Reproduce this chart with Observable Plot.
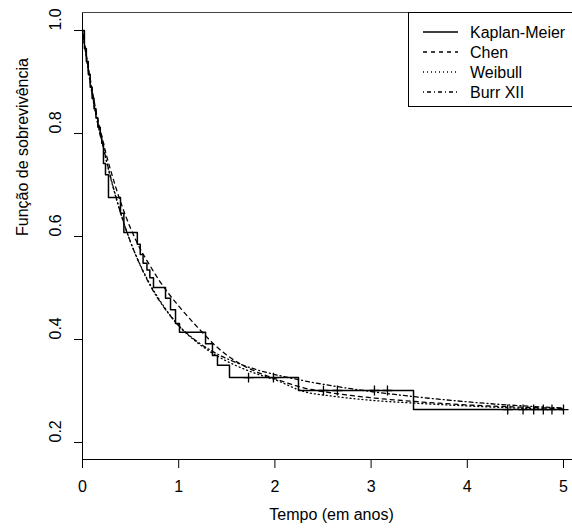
<!DOCTYPE html>
<html>
<head>
<meta charset="utf-8">
<script src="https://cdn.jsdelivr.net/npm/d3@7"></script>
<script src="https://cdn.jsdelivr.net/npm/@observablehq/plot@0.6"></script>
<style>
  html, body { margin: 0; padding: 0; background: white; }
  #chart { width: 572px; height: 530px; overflow: hidden; }
</style>
</head>
<body>
<div id="chart"></div>
<script>
// ---- data ----
const xTicks = [0, 1, 2, 3, 4, 5];
const yTicks = [0.2, 0.4, 0.6, 0.8, 1.0];

// Kaplan-Meier step estimate (time, survival)
const kmTime = [0, 0.02, 0.04, 0.06, 0.08, 0.10, 0.12, 0.14, 0.16, 0.185, 0.20, 0.218, 0.239, 0.270, 0.395, 0.43, 0.57, 0.60, 0.63, 0.67, 0.70, 0.738, 0.863, 0.915, 0.967, 1.008, 1.279, 1.351, 1.403, 1.528, 2.245, 3.441, 5.0];
const kmSurv = [1.0, 0.965, 0.94, 0.915, 0.89, 0.868, 0.848, 0.83, 0.812, 0.795, 0.781, 0.742, 0.720, 0.676, 0.645, 0.608, 0.585, 0.565, 0.548, 0.535, 0.520, 0.501, 0.480, 0.458, 0.431, 0.414, 0.392, 0.369, 0.350, 0.326, 0.301, 0.264, 0.264];

// censored observations (time)
const censorTime = [1.726, 1.985, 2.505, 2.65, 3.035, 3.17, 4.42, 4.58, 4.69, 4.79, 4.88, 5.0];

// fitted survival curves
const fitTime = [0, 0.05, 0.1, 0.15, 0.2, 0.25, 0.3, 0.4, 0.5, 0.6, 0.7, 0.8, 0.9, 1.0, 1.2, 1.4, 1.6, 1.8, 2.0, 2.3, 2.6, 3.0, 3.5, 4.0, 4.5, 5.0];
const chen    = [1, 0.94, 0.885, 0.835, 0.795, 0.757, 0.724, 0.665, 0.616, 0.576, 0.544, 0.514, 0.488, 0.465, 0.423, 0.385, 0.357, 0.338, 0.324, 0.306, 0.296, 0.287, 0.279, 0.273, 0.269, 0.266];
const weibull = [1, 0.935, 0.876, 0.826, 0.785, 0.745, 0.708, 0.643, 0.589, 0.545, 0.508, 0.477, 0.450, 0.427, 0.393, 0.368, 0.349, 0.334, 0.322, 0.299, 0.290, 0.282, 0.276, 0.271, 0.267, 0.264];
const burr    = [1, 0.938, 0.879, 0.828, 0.787, 0.747, 0.710, 0.644, 0.589, 0.544, 0.506, 0.475, 0.449, 0.427, 0.395, 0.372, 0.355, 0.342, 0.332, 0.320, 0.310, 0.299, 0.288, 0.279, 0.272, 0.267];

const legendLabels = ["Kaplan-Meier", "Chen", "Weibull", "Burr XII"];
const legendDash = [null, "4,4", "1,3", "1,3,4,3"];

// ---- build tables ----
const km = kmTime.map((t, i) => ({t, s: kmSurv[i]}));
function kmAt(t) {
  let s = kmSurv[0];
  for (let i = 0; i < kmTime.length; i++) if (kmTime[i] <= t) s = kmSurv[i];
  return s;
}
const censored = censorTime.map(t => ({t, s: kmAt(t)}));
const fits = [
  {name: "Chen", values: chen, dash: legendDash[1]},
  {name: "Weibull", values: weibull, dash: legendDash[2]},
  {name: "Burr XII", values: burr, dash: legendDash[3]}
];

const xMax = 5.0936, yMin = 0.167, yMax = 1.035;
const font = "'Liberation Sans', Arial, Helvetica, sans-serif";

const fitMarks = fits.map(f =>
  Plot.line(fitTime.map((t, i) => ({t, s: f.values[i]})), {
    x: "t", y: "s", stroke: "black", strokeWidth: 1.3,
    strokeDasharray: f.dash, curve: "monotone-x"
  })
);

const chart = Plot.plot({
  width: 572,
  height: 530,
  marginLeft: 82,
  marginRight: 0,
  marginTop: 12,
  marginBottom: 71,
  x: {domain: [0, xMax]},
  y: {domain: [yMin, yMax]},
  style: {fontFamily: font, fontSize: "16px", color: "black", background: "white"},
  marks: [
    Plot.ruleX([0], {stroke: "black"}),
    Plot.ruleY([yMin], {stroke: "black"}),
    Plot.ruleY([yMax], {stroke: "#444"}),
    Plot.axisX(xTicks, {tickSize: 9, tickPadding: 12, label: null, tickFormat: d => String(d)}),
    Plot.axisY(yTicks, {tickSize: 8, tickFormat: () => "", label: null}),
    Plot.text(yTicks, {y: d => d, frameAnchor: "left", dx: -27, rotate: -90, text: d => d.toFixed(1)}),
    Plot.text(["Tempo (em anos)"], {frameAnchor: "bottom", dy: 60, dx: 4, text: d => d}),
    Plot.text(["Função de sobrevivência"], {frameAnchor: "left", dx: -60, rotate: -90, text: d => d}),
    ...fitMarks,
    Plot.line(km, {x: "t", y: "s", stroke: "black", strokeWidth: 1.5, curve: "step-after"}),
    Plot.dot(censored, {x: "t", y: "s", symbol: "plus", r: 3.3, stroke: "black", strokeWidth: 1.3})
  ]
});

// legend (top-right, clipped by the figure edge like the reference)
const svg = d3.select(chart);
const lg = svg.append("g").attr("font-family", font).attr("font-size", 16).attr("text-anchor", "start");
lg.append("rect").attr("x", 408.5).attr("y", 12.5).attr("width", 200).attr("height", 94)
  .attr("fill", "white").attr("stroke", "black");
legendLabels.forEach((lab, i) => {
  const y = 32 + i * 20;
  lg.append("line").attr("x1", 423).attr("x2", 458).attr("y1", y).attr("y2", y)
    .attr("stroke", "black").attr("stroke-width", i === 0 ? 1.5 : 1.3)
    .attr("stroke-dasharray", legendDash[i]);
  lg.append("text").attr("x", 470).attr("y", y).attr("dy", "0.35em")
    .attr("text-anchor", "start").attr("fill", "black").text(lab);
});

document.getElementById("chart").appendChild(chart);
</script>
</body>
</html>
